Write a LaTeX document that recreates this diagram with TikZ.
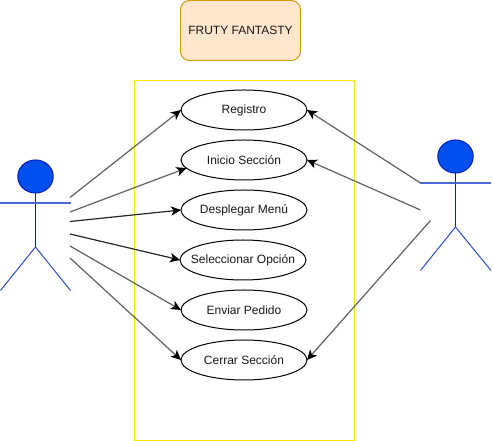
\documentclass[tikz,border=0pt]{standalone}
\usepackage{fontspec}
\setmainfont{Liberation Sans}
\usetikzlibrary{arrows.meta,shapes.geometric}
\definecolor{actorline}{HTML}{001DBC}
\definecolor{actorfill}{HTML}{0050EF}
\definecolor{armline}{HTML}{4A68D8}
\definecolor{legline}{HTML}{2A4CD0}
\definecolor{titlefill}{HTML}{FFE6CC}
\definecolor{titleline}{HTML}{D79B00}
\definecolor{frameline}{HTML}{FFE600}
\tikzset{
  x=0.75pt,y=-0.75pt,
  every node/.style={font=\fontsize{9pt}{11pt}\selectfont,text=black!90},
  usecase/.style={draw=black,line width=0.75pt,ellipse,fill=white,minimum width=94.5pt,minimum height=30pt,inner sep=0pt,outer sep=0pt,
    execute at begin node={\hbox to 0pt\bgroup\hss},execute at end node={\hss\egroup}},
  titlebox/.style={draw=titleline,fill=titlefill,line width=0.75pt,rounded corners=6.75pt,minimum width=90pt,minimum height=45pt,inner sep=0pt},
  framebox/.style={draw=frameline,line width=0.75pt,minimum width=165pt,minimum height=269.6pt,inner sep=0pt},
  head/.style={draw=actorline,fill=actorfill,line width=0.75pt,ellipse,minimum width=26.6pt,minimum height=24.8pt,inner sep=0pt,outer sep=0pt},
  actorbody/.style={fill=actorline},
  actorarm/.style={fill=armline},
  actorleg/.style={draw=legline,line width=0.75pt},
  flow/.style={draw=black!62,line width=0.9pt,-{Stealth[length=7.5pt,width=7pt,inset=2pt,black]}},
  flowdark/.style={flow,draw=black!85}
}
\begin{document}
\begin{tikzpicture}
\useasboundingbox (0,0) rectangle (493,441);
\node[titlebox] (title) at (240.5,30.5) {FRUTY FANTASTY};
\node[framebox] (frame) at (244.5,260.5) {};
\node[usecase] (reg) at (244,110) {Registro};
\node[usecase] (ini) at (244,160) {Inicio Sección};
\node[usecase] (des) at (244,210) {Desplegar Menú};
\node[usecase] (sel) at (243,260) {Seleccionar Opción};
\node[usecase] (env) at (244,310) {Enviar Pedido};
\node[usecase] (cer) at (244,360) {Cerrar Sección};
% left actor
\node[head] (lh) at (35.5,176.5) {};
\coordinate (lhip) at (35.5,247);
\coordinate (llegL) at (0.5,290.5);
\coordinate (llegR) at (70.5,290.5);
\fill[actorbody] (35,193) rectangle (36,247);
\fill[actorarm] (0,202.5) rectangle (71,204);
\draw[actorleg] (llegL) -- (lhip) -- (llegR);
% right actor
\node[head] (rh) at (455.5,156.5) {};
\coordinate (rhip) at (455.5,227);
\coordinate (rlegL) at (420.5,270.5);
\coordinate (rlegR) at (491,270.5);
\fill[actorbody] (455,173) rectangle (456,227);
\fill[actorarm] (420,182.5) rectangle (491,184);
\draw[actorleg] (rlegL) -- (rhip) -- (rlegR);
% connector starts
\coordinate (a1) at (70,197.5);
\coordinate (a2) at (70,212);
\coordinate (a3) at (70,221.5);
\coordinate (a4) at (70,234);
\coordinate (a5) at (70,246);
\coordinate (a6) at (70,258);
\coordinate (b1) at (420.5,183);
\coordinate (b2) at (420.5,210);
\coordinate (b3) at (430.5,220.5);
\draw[flow] (a1) -- (reg.west);
\draw[flow] (a2) -- (ini.188);
\draw[flowdark] (a3) -- (des.west);
\draw[flowdark] (a4) -- (sel.west);
\draw[flow] (a5) -- (env.west);
\draw[flow] (a6) -- (cer.west);
\draw[flow] (b1) -- (reg.east);
\draw[flow] (b2) -- (ini.east);
\draw[flow] (b3) -- (cer.east);
\end{tikzpicture}
\end{document}
